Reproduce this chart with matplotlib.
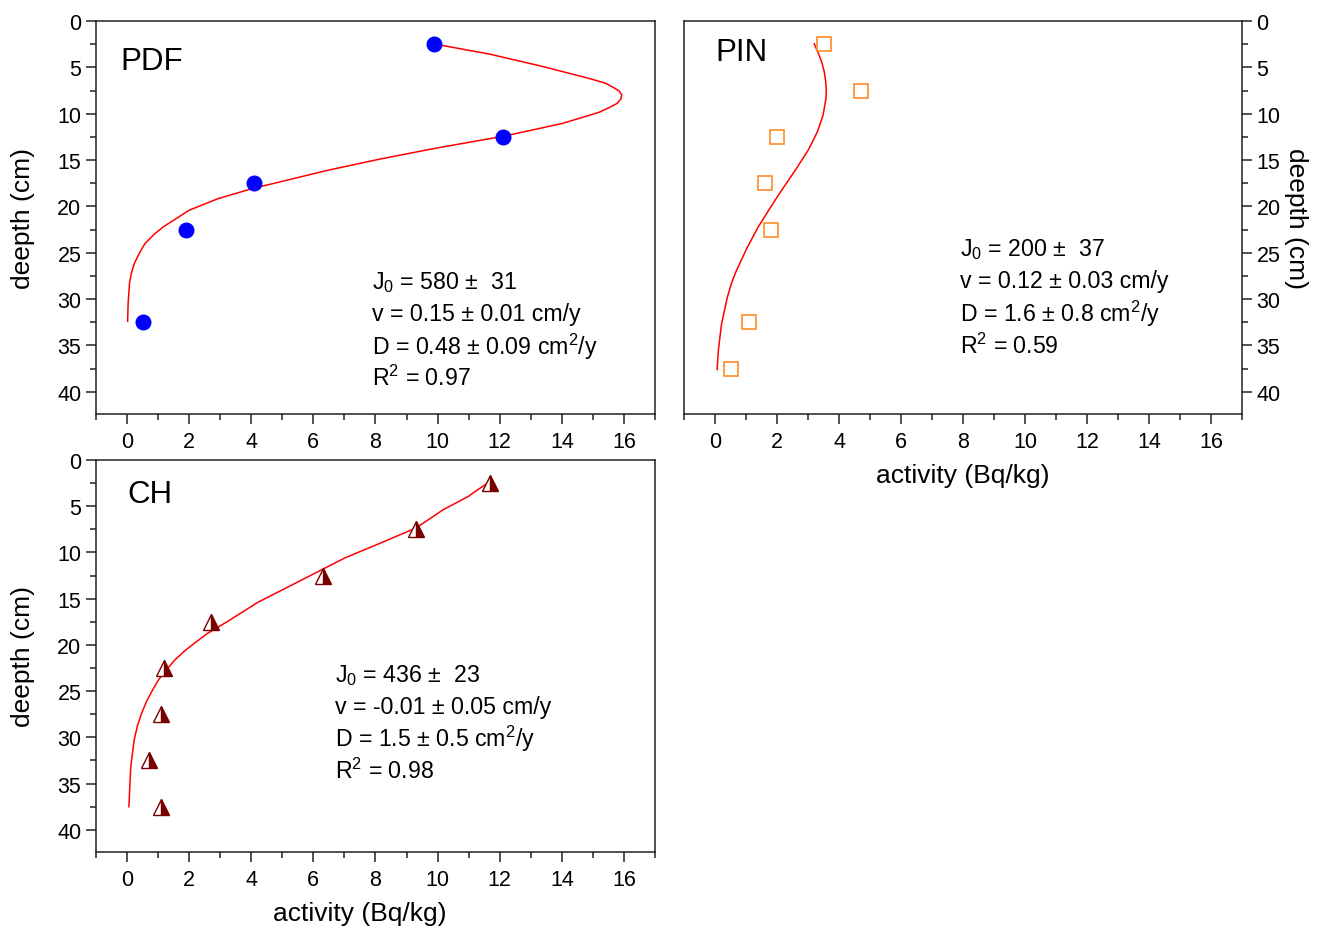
import numpy as np
import matplotlib
matplotlib.use("Agg")
import matplotlib.pyplot as plt
from matplotlib.ticker import MultipleLocator

plt.rcParams['font.family'] = ['Liberation Sans', 'DejaVu Sans']
plt.rcParams['mathtext.default'] = 'regular'

# PDF - measured points and fitted curve
pdf_act = [9.9, 12.1, 4.1, 1.9, 0.5]
pdf_depth = [2.5, 12.5, 17.5, 22.5, 32.5]
pdf_fit_act = [9.93, 11.69, 13.44, 14.96, 15.43, 15.66, 15.84, 15.93, 15.9, 15.78, 15.54,
               15.19, 14.03, 12.86, 12.1, 9.93, 8.18, 6.43, 4.68, 4.11, 2.92, 1.99, 1.64,
               1.17, 0.88, 0.58, 0.39, 0.23, 0.14, 0.08, 0.035, 0.02]
pdf_fit_depth = [2.5, 3.58, 4.95, 6.27, 6.74, 7.17, 7.53, 7.96, 8.42, 8.89, 9.32,
                 9.86, 11.04, 11.9, 12.44, 13.73, 14.87, 16.13, 17.56, 18.0, 19.18, 20.43, 21.2,
                 22.2, 23.0, 24.0, 25.1, 26.2, 27.2, 28.3, 30.5, 32.4]

# PIN
pin_act = [3.5, 4.7, 2.0, 1.6, 1.8, 1.1, 0.5]
pin_depth = [2.5, 7.5, 12.5, 17.5, 22.5, 32.5, 37.5]
pin_fit_act = [3.2, 3.31, 3.43, 3.52, 3.57, 3.59, 3.58, 3.49, 3.31, 3.02, 2.61, 2.14, 1.79,
               1.38, 1.03, 0.68, 0.52, 0.39, 0.21, 0.105, 0.07]
pin_fit_depth = [2.45, 3.3, 4.3, 5.4, 6.5, 7.4, 8.3, 10.1, 11.9, 13.85, 16.0, 18.3, 20.1,
                 22.3, 24.5, 27.0, 28.4, 29.9, 32.7, 35.6, 37.6]

# CH
ch_act = [11.7, 9.3, 6.3, 2.7, 1.2, 1.1, 0.7, 1.1]
ch_depth = [2.5, 7.5, 12.5, 17.5, 22.5, 27.5, 32.5, 37.5]
ch_fit_act = [11.57, 11.3, 10.99, 10.17, 9.31, 8.18, 7.01, 6.31, 5.38, 4.21, 3.27, 2.57,
              1.87, 1.55, 1.29, 1.03, 0.82, 0.63, 0.47, 0.33, 0.23, 0.12, 0.06]
ch_fit_depth = [2.6, 3.2, 3.94, 5.4, 7.35, 8.96, 10.6, 11.8, 13.4, 15.4, 17.4, 18.8,
                20.6, 21.6, 22.6, 23.7, 24.9, 26.1, 27.4, 28.8, 30.3, 33.2, 37.5]

pdf_text = ['J$_0$ = 580 ±  31', 'v = 0.15 ± 0.01 cm/y', 'D = 0.48 ± 0.09 cm$^2$/y', 'R$^2$ = 0.97']
pin_text = ['J$_0$ = 200 ±  37', 'v = 0.12 ± 0.03 cm/y', 'D = 1.6 ± 0.8 cm$^2$/y', 'R$^2$ = 0.59']
ch_text = ['J$_0$ = 436 ±  23', 'v = -0.01 ± 0.05 cm/y', 'D = 1.5 ± 0.5 cm$^2$/y', 'R$^2$ = 0.98']

fig = plt.figure(figsize=(13.2, 9.29), dpi=100)
ax1 = fig.add_axes([0.0727, 0.5533, 0.4235, 0.4230])
ax2 = fig.add_axes([0.5182, 0.5533, 0.4227, 0.4230])
ax3 = fig.add_axes([0.0727, 0.0818, 0.4235, 0.4220])


def style(ax, right=False):
    ax.set_xlim(-1, 17)
    ax.set_ylim(42.4, 0)
    ax.xaxis.set_major_locator(MultipleLocator(2))
    ax.xaxis.set_minor_locator(MultipleLocator(1))
    ax.yaxis.set_major_locator(MultipleLocator(5))
    ax.yaxis.set_minor_locator(MultipleLocator(2.5))
    ax.tick_params(which='both', direction='out', labelsize=15.5, width=1.1, color='#222222')
    ax.tick_params(which='major', length=7)
    ax.tick_params(which='minor', length=4)
    ax.tick_params(axis='x', pad=5)
    if right:
        ax.yaxis.tick_right()
        ax.yaxis.set_label_position('right')
    for s in ax.spines.values():
        s.set_linewidth(1.1)
        s.set_color('#222222')


for ax in (ax1, ax2, ax3):
    style(ax)
style(ax2, right=True)

# PDF
ax1.plot(pdf_fit_act, pdf_fit_depth, color='red', lw=1.1, zorder=2)
ax1.plot(pdf_act, pdf_depth, 'o', color='blue', ms=10.5, zorder=3)
ax1.text(-0.2, 4.3, 'PDF', fontsize=22.5, va='center', ha='left')
for i, t in enumerate(pdf_text):
    ax1.text(7.89, 28.1 + i * 3.45, t, fontsize=16.7, va='center', ha='left')
ax1.set_ylabel('deepth (cm)', fontsize=19, labelpad=16)

# PIN
ax2.plot(pin_fit_act, pin_fit_depth, color='red', lw=1.1, zorder=2)
ax2.plot(pin_act, pin_depth, 's', mfc='none', mec='#FF8C2A', mew=1.2, ms=9.5, zorder=3)
ax2.text(0.0, 3.3, 'PIN', fontsize=22.5, va='center', ha='left')
for i, t in enumerate(pin_text):
    ax2.text(7.89, 24.6 + i * 3.45, t, fontsize=16.7, va='center', ha='left')
ax2.set_ylabel('deepth (cm)', fontsize=19, rotation=270, labelpad=20)
ax2.set_xlabel('activity (Bq/kg)', fontsize=19, labelpad=8)

# CH
ax3.plot(ch_fit_act, ch_fit_depth, color='red', lw=1.1, zorder=2)
ax3.plot(ch_act, ch_depth, '^', fillstyle='right', color='#7A0000', mfc='#7A0000',
         mfcalt='white', mec='#7A0000', mew=1.0, ms=12, zorder=3)
ax3.text(0.0, 3.7, 'CH', fontsize=22.5, va='center', ha='left')
for i, t in enumerate(ch_text):
    ax3.text(6.7, 23.2 + i * 3.45, t, fontsize=16.7, va='center', ha='left')
ax3.set_ylabel('deepth (cm)', fontsize=19, labelpad=16)
ax3.set_xlabel('activity (Bq/kg)', fontsize=19)
ax3.xaxis.set_label_coords(0.472, -0.125)

fig.savefig('out.png', dpi=100)
